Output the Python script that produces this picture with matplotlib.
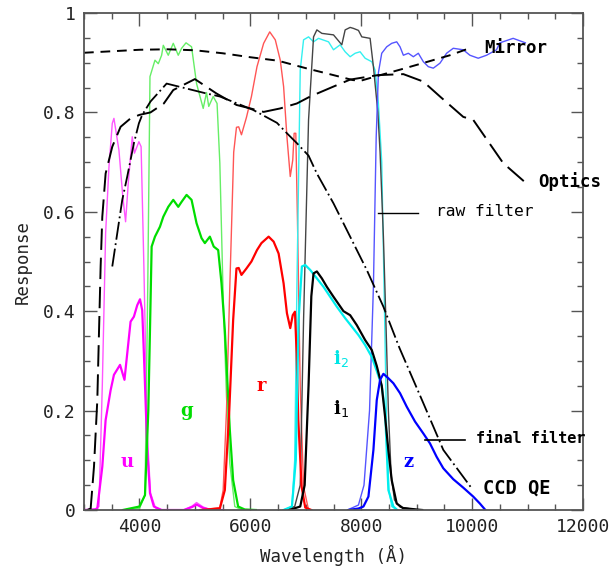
import matplotlib
matplotlib.use("Agg")
import matplotlib.pyplot as plt
from matplotlib.ticker import MultipleLocator
import numpy as np

plt.rcParams['font.family'] = ['DejaVu Sans Mono']

# ---------------- data ----------------
mirror_wl = [3000, 3500, 4000, 4500, 5000, 5500, 6000, 6500, 7000, 7500, 7850, 8000, 8280, 8700, 9200, 9600, 9900]
mirror_r = [0.920, 0.923, 0.926, 0.927, 0.925, 0.919, 0.911, 0.904, 0.889, 0.875, 0.865, 0.864, 0.873, 0.886, 0.902, 0.915, 0.927]

optics_wl = [3060, 3120, 3180, 3240, 3270, 3300, 3330, 3390, 3510, 3660, 3840, 4000, 4200, 4440, 4610, 5000, 5390, 5750, 6000, 6240, 6540, 6840, 7080, 7500, 7800, 8300, 8760, 9120, 9420, 9840, 10020, 10560, 10980]
optics_r = [0.0, 0.003, 0.087, 0.221, 0.356, 0.490, 0.590, 0.677, 0.731, 0.771, 0.788, 0.795, 0.800, 0.818, 0.845, 0.867, 0.838, 0.815, 0.808, 0.801, 0.808, 0.818, 0.832, 0.852, 0.866, 0.875, 0.877, 0.862, 0.832, 0.791, 0.785, 0.698, 0.657]

ccd_wl = [3510, 3600, 3690, 3780, 3900, 3990, 4050, 4200, 4490, 5210, 5450, 6050, 6480, 6660, 6840, 7050, 7200, 7500, 7800, 8100, 8400, 8690, 9120, 9480, 9990]
ccd_qe = [0.490, 0.557, 0.624, 0.671, 0.738, 0.778, 0.795, 0.822, 0.858, 0.838, 0.832, 0.805, 0.779, 0.758, 0.738, 0.713, 0.677, 0.617, 0.550, 0.483, 0.409, 0.326, 0.215, 0.121, 0.044]

# raw filters (thin)
u_raw_wl = [3000, 3200, 3270, 3330, 3390, 3450, 3510, 3540, 3630, 3700, 3750, 3800, 3870, 3910, 3990, 4030, 4080, 4140, 4200, 4290, 4400, 4800, 4950, 5030, 5150, 5300, 5500]
u_raw = [0.0, 0.002, 0.007, 0.25, 0.557, 0.69, 0.778, 0.788, 0.724, 0.63, 0.580, 0.66, 0.751, 0.718, 0.741, 0.731, 0.49, 0.155, 0.034, 0.004, 0.0, 0.0, 0.008, 0.015, 0.006, 0.0, 0.0]
g_raw_wl = [3700, 4000, 4100, 4150, 4190, 4280, 4340, 4400, 4430, 4520, 4610, 4700, 4760, 4840, 4940, 5030, 5150, 5210, 5250, 5330, 5400, 5450, 5510, 5570, 5630, 5720, 5850]
g_raw = [0.0, 0.003, 0.03, 0.45, 0.872, 0.905, 0.898, 0.915, 0.935, 0.915, 0.939, 0.915, 0.929, 0.940, 0.932, 0.858, 0.808, 0.840, 0.812, 0.832, 0.818, 0.698, 0.429, 0.228, 0.094, 0.007, 0.0]
r_raw_wl = [5100, 5450, 5510, 5570, 5630, 5700, 5750, 5790, 5840, 5930, 6020, 6120, 6240, 6350, 6450, 6540, 6600, 6660, 6720, 6765, 6790, 6820, 6850, 6900, 6960, 7050]
r_raw = [0.0, 0.005, 0.04, 0.20, 0.45, 0.72, 0.770, 0.771, 0.755, 0.790, 0.832, 0.892, 0.939, 0.962, 0.946, 0.905, 0.852, 0.751, 0.671, 0.704, 0.758, 0.758, 0.583, 0.248, 0.047, 0.0]
i2_raw_wl = [6600, 6750, 6800, 6840, 6900, 6960, 7050, 7140, 7230, 7410, 7500, 7620, 7710, 7800, 7890, 7980, 8070, 8190, 8250, 8310, 8370, 8420, 8460, 8500, 8550, 8650]
i2_raw = [0.0, 0.007, 0.10, 0.45, 0.885, 0.946, 0.952, 0.942, 0.949, 0.942, 0.926, 0.936, 0.922, 0.912, 0.919, 0.922, 0.909, 0.902, 0.885, 0.818, 0.70, 0.40, 0.15, 0.04, 0.007, 0.0]
i1_raw_wl = [6600, 6800, 6900, 6960, 7050, 7140, 7200, 7290, 7500, 7650, 7710, 7800, 7860, 7950, 8010, 8160, 8220, 8300, 8340, 8400, 8440, 8490, 8540, 8600, 8700, 8900, 9050]
i1_raw = [0.0, 0.007, 0.05, 0.382, 0.785, 0.952, 0.966, 0.959, 0.956, 0.936, 0.966, 0.971, 0.969, 0.965, 0.952, 0.949, 0.892, 0.80, 0.72, 0.55, 0.40, 0.20, 0.07, 0.02, 0.006, 0.002, 0.0]
z_raw_wl = [7750, 7950, 8050, 8150, 8220, 8270, 8310, 8370, 8460, 8550, 8640, 8700, 8760, 8850, 8940, 9030, 9120, 9210, 9300, 9420, 9540, 9660, 9840, 9960, 10110, 10260, 10440, 10500, 10740, 10960]
z_raw = [0.0, 0.01, 0.05, 0.20, 0.45, 0.75, 0.880, 0.919, 0.932, 0.939, 0.942, 0.932, 0.915, 0.919, 0.912, 0.919, 0.902, 0.892, 0.889, 0.899, 0.919, 0.929, 0.926, 0.915, 0.909, 0.915, 0.926, 0.940, 0.949, 0.940]

# final filters (thick)
u_fin_wl = [3000, 3200, 3240, 3330, 3390, 3480, 3540, 3650, 3730, 3840, 3900, 3960, 4010, 4050, 4080, 4110, 4140, 4190, 4260, 4400, 4800, 4950, 5030, 5150, 5300, 5500]
u_fin = [0.0, 0.001, 0.003, 0.087, 0.181, 0.241, 0.272, 0.292, 0.262, 0.379, 0.389, 0.412, 0.424, 0.402, 0.315, 0.221, 0.121, 0.034, 0.007, 0.0, 0.0, 0.006, 0.011, 0.004, 0.0, 0.0]
g_fin_wl = [3700, 4000, 4100, 4160, 4190, 4220, 4280, 4370, 4430, 4520, 4610, 4700, 4760, 4850, 4940, 5030, 5120, 5180, 5270, 5340, 5420, 5480, 5540, 5630, 5690, 5780, 5900, 6100]
g_fin = [0.0, 0.007, 0.03, 0.20, 0.362, 0.530, 0.550, 0.570, 0.590, 0.610, 0.624, 0.610, 0.620, 0.634, 0.624, 0.577, 0.547, 0.537, 0.550, 0.530, 0.523, 0.456, 0.362, 0.161, 0.060, 0.007, 0.001, 0.0]
r_fin_wl = [5100, 5450, 5540, 5620, 5690, 5750, 5790, 5840, 5930, 6020, 6120, 6200, 6330, 6420, 6510, 6600, 6660, 6720, 6765, 6805, 6835, 6865, 6925, 6990, 7100]
r_fin = [0.0, 0.003, 0.04, 0.20, 0.382, 0.486, 0.487, 0.473, 0.486, 0.500, 0.523, 0.537, 0.550, 0.540, 0.516, 0.456, 0.396, 0.366, 0.392, 0.399, 0.315, 0.181, 0.047, 0.005, 0.0]
i2_fin_wl = [6600, 6750, 6820, 6870, 6930, 6990, 7080, 7200, 7320, 7440, 7560, 7710, 7830, 7950, 8070, 8190, 8280, 8370, 8430, 8460, 8490, 8580, 8650]
i2_fin = [0.0, 0.007, 0.10, 0.382, 0.490, 0.493, 0.483, 0.466, 0.449, 0.429, 0.409, 0.386, 0.369, 0.352, 0.332, 0.308, 0.280, 0.250, 0.20, 0.121, 0.040, 0.007, 0.0]
i1_fin_wl = [6700, 6900, 6980, 7050, 7100, 7140, 7200, 7290, 7380, 7500, 7680, 7800, 7920, 8070, 8190, 8280, 8370, 8430, 8490, 8550, 8640, 8750, 9000, 9100]
i1_fin = [0.0, 0.007, 0.05, 0.25, 0.43, 0.476, 0.480, 0.466, 0.449, 0.429, 0.400, 0.392, 0.372, 0.342, 0.322, 0.290, 0.250, 0.188, 0.120, 0.060, 0.013, 0.004, 0.001, 0.0]
z_fin_wl = [7770, 7950, 8040, 8130, 8220, 8280, 8340, 8400, 8490, 8580, 8700, 8820, 8970, 9120, 9240, 9360, 9480, 9660, 9840, 10020, 10140, 10240]
z_fin = [0.0, 0.003, 0.007, 0.027, 0.121, 0.221, 0.262, 0.274, 0.265, 0.255, 0.235, 0.208, 0.178, 0.154, 0.134, 0.107, 0.084, 0.062, 0.045, 0.027, 0.013, 0.0]

filter_labels = ['u', 'g', 'r', 'i$_2$', 'i$_1$', 'z']
x_ticks = [4000, 6000, 8000, 10000, 12000]
y_ticks = [0, 0.2, 0.4, 0.6, 0.8, 1.0]
y_ticklabels = ['0', '0.2', '0.4', '0.6', '0.8', '1']

# ---------------- figure ----------------
fig = plt.figure(figsize=(6.15, 5.74), dpi=100)
ax = fig.add_axes([84 / 615, 1 - 510 / 574, 499 / 615, 497 / 574])

thin = 1.0
thick = 1.6
# raw
ax.plot(u_raw_wl, u_raw, color='#ff55ff', lw=thin)
ax.plot(g_raw_wl, g_raw, color='#66ee66', lw=thin)
ax.plot(r_raw_wl, r_raw, color='#ff5555', lw=thin)
ax.plot(i2_raw_wl, i2_raw, color='#33f0f0', lw=thin)
ax.plot(i1_raw_wl, i1_raw, color='#444444', lw=thin)
ax.plot(z_raw_wl, z_raw, color='#5555ff', lw=thin)
# final
ax.plot(u_fin_wl, u_fin, color='#ff00ff', lw=thick)
ax.plot(g_fin_wl, g_fin, color='#00dd00', lw=thick)
ax.plot(r_fin_wl, r_fin, color='#ff0000', lw=thick)
ax.plot(i2_fin_wl, i2_fin, color='#00eeee', lw=thick)
ax.plot(i1_fin_wl, i1_fin, color='#000000', lw=thick)
ax.plot(z_fin_wl, z_fin, color='#0000ff', lw=thick)

# system curves
ax.plot(mirror_wl, mirror_r, color='black', lw=1.4, dashes=(5, 3.5))
ax.plot(optics_wl, optics_r, color='black', lw=1.4, dashes=(11, 4))
ax.plot(ccd_wl, ccd_qe, color='black', lw=1.3, dashes=(10, 2, 1, 2))

# labels of filters
lab_style = dict(fontsize=13, fontweight='bold', ha='center', va='center', family='DejaVu Serif')
ax.text(3780, 0.097, filter_labels[0], color='#ff00ff', **lab_style)
ax.text(4850, 0.200, filter_labels[1], color='#00dd00', **lab_style)
ax.text(6200, 0.250, filter_labels[2], color='#ff0000', **lab_style)
ax.text(7640, 0.305, filter_labels[3], color='#00e5e5', **lab_style)
ax.text(7640, 0.205, filter_labels[4], color='black', **lab_style)
ax.text(8850, 0.097, filter_labels[5], color='#0000ff', **lab_style)

ax.text(10220, 0.93, 'Mirror', fontsize=12.5, fontweight='bold', va='center', ha='left', clip_on=False)
ax.text(11190, 0.660, 'Optics', fontsize=12.5, fontweight='bold', va='center', ha='left', clip_on=False)
ax.text(9350, 0.600, 'raw filter', fontsize=11.7, va='center', ha='left')
ax.text(10070, 0.143, 'final filter', fontsize=11, va='center', ha='left', fontweight='bold', clip_on=False)
ax.text(10200, 0.045, 'CCD QE', fontsize=13.5, va='center', ha='left', fontweight='bold')

ax.plot([8300, 9020], [0.598, 0.598], color='black', lw=1.0)
ax.plot([9150, 9870], [0.141, 0.141], color='black', lw=1.2)

ax.set_xlim(3000, 12000)
ax.set_ylim(0, 1)
ax.set_xticks(x_ticks)
ax.set_yticks(y_ticks)
ax.set_yticklabels(y_ticklabels)
ax.xaxis.set_minor_locator(MultipleLocator(500))
ax.yaxis.set_minor_locator(MultipleLocator(0.05))
ax.tick_params(which='both', direction='in', top=True, right=True, color='#555555', labelsize=13, labelcolor='#222222')
ax.tick_params(which='major', length=9, width=1.0, pad=6)
ax.tick_params(which='minor', length=4.5, width=1.0)
for s in ax.spines.values():
    s.set_color('#555555')
    s.set_linewidth(1.3)

ax.set_xlabel('Wavelength (Å)', fontsize=12.5, color='#222222', labelpad=6)
ax.set_ylabel('Response', fontsize=12.5, color='#222222', labelpad=8)

fig.savefig('out.png', dpi=100)
